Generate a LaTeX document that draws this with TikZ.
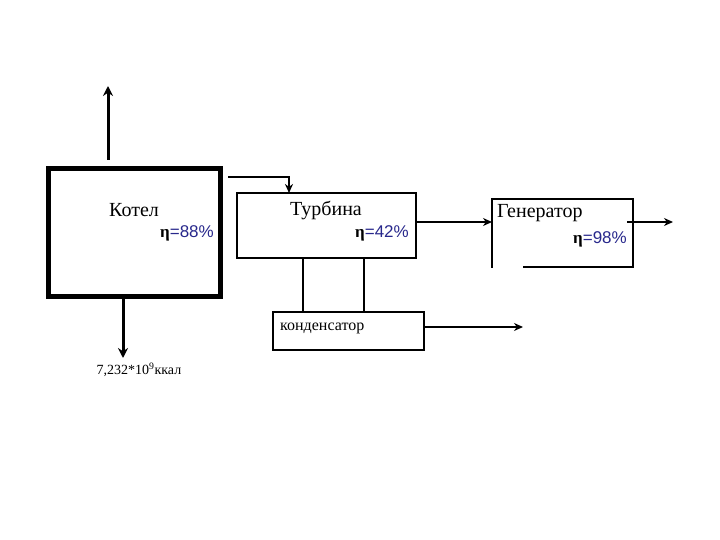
\documentclass[tikz,border=0pt]{standalone}
\usepackage{fontspec}
\setmainfont{Liberation Serif}
\newfontfamily\arialf{Liberation Sans}
\usetikzlibrary{arrows.meta}
\definecolor{effblue}{RGB}{40,40,140}
\tikzset{
  boxA/.style={draw, line width=5pt, inner sep=0pt, outer sep=0pt, anchor=north west},
  boxB/.style={draw, line width=2pt, inner sep=0pt, outer sep=0pt, anchor=north west},
  ghost/.style={inner sep=0pt, outer sep=0pt, anchor=north west},
  thickarr/.style={line width=3pt, -{Stealth[length=10pt,width=10pt]}},
  thinarr/.style={line width=2pt, -{Stealth[length=9pt,width=8pt]}},
  conn/.style={line width=2pt},
  bigtxt/.style={font=\fontsize{20}{23}\selectfont, inner sep=0pt},
  efftxt/.style={inner sep=0pt, font=\fontsize{17}{20}\selectfont},
  smalltxt/.style={inner sep=0pt, font=\fontsize{14}{16}\selectfont},
  condtxt/.style={inner sep=0pt, font=\fontsize{16}{18}\selectfont}
}
\newcommand{\efff}[1]{{\bfseries η}{\arialf\color{effblue}=#1}}
\begin{document}
\begin{tikzpicture}[x=1pt,y=-1pt]
\useasboundingbox[fill=white] (0,0) rectangle (720,540);
% boxes
\node[boxA, minimum width=172pt, minimum height=127pt] (kotel) at (48,169) {};
\node[boxB, minimum width=179pt, minimum height=65pt] (turb) at (237,193) {};
\node[ghost, minimum width=141pt, minimum height=68pt] (gen) at (492,199) {};
\node[boxB, minimum width=151pt, minimum height=38pt] (cond) at (273,312) {};
\draw[conn] ([xshift=31pt]gen.south west) -- (gen.south east) -- (gen.north east) -- (gen.north west) -- ([yshift=-1pt]gen.south west);
% labels
\node[bigtxt] (kotelL) at (134,210) {Котел};
\node[efftxt, anchor=east] (kotelE) at (214,233) {\efff{88\%}};
\node[bigtxt] (turbL) at (326,210) {Турбина};
\node[efftxt, anchor=east] (turbE) at (409,233) {\efff{42\%}};
\node[bigtxt, anchor=west] (genL) at (497,213) {Генератор};
\node[efftxt, anchor=east] (genE) at (627,239) {\efff{98\%}};
\node[condtxt, anchor=west] (condL) at (280,328) {конденсатор};
\node[smalltxt] (heat) at (139,370) {7,232*10\textsuperscript{9}ккал};
% connectors
\coordinate (kup) at (108,86);
\draw[thickarr] ([yshift=9pt]kotel.north -| kup) -- (kup);
\coordinate (kdown) at (123,358);
\draw[thickarr] (kotel.south -| kdown) -- (kdown);
\coordinate (kt) at (228,177);
\draw[thinarr] (kt) -| ([xshift=-37.5pt]turb.north);
\coordinate (tg) at ([yshift=3.5pt]turb.east);
\draw[thinarr] (tg) -- (tg -| gen.west);
\coordinate (gs) at ([xshift=-6pt,yshift=11pt]gen.east);
\coordinate (gout) at (673,222);
\draw[thinarr] (gs) -- (gout);
\coordinate (c1) at ([xshift=30pt]cond.north west);
\coordinate (c2) at ([xshift=91pt]cond.north west);
\draw[conn] (c1) -- (c1 |- turb.south);
\draw[conn] (c2) -- (c2 |- turb.south);
\coordinate (cs) at ([yshift=4pt]cond.east);
\coordinate (cout) at (523,327);
\draw[thinarr] (cs) -- (cout);
\end{tikzpicture}
\end{document}
